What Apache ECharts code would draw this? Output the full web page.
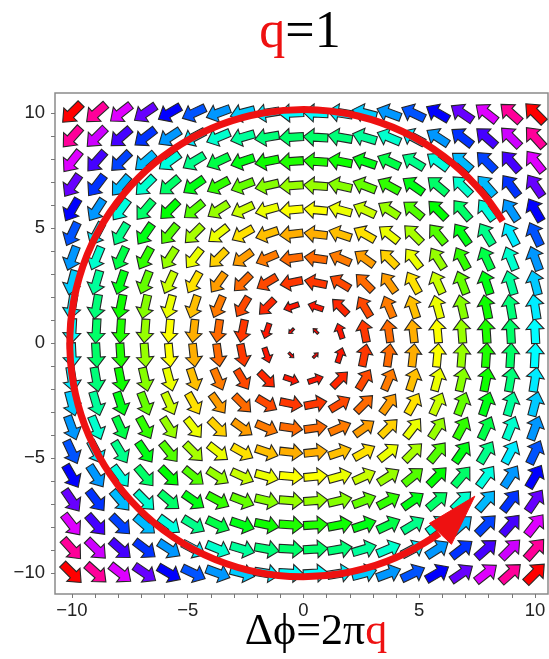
<!DOCTYPE html>
<html>
<head>
<meta charset="utf-8">
<script src="https://cdn.jsdelivr.net/npm/echarts@6/dist/echarts.min.js"></script>
<style>html,body{margin:0;padding:0;background:#fff}#c{width:549px;height:659px}</style>
</head>
<body>
<div id="c"></div>
<script>
// grid positions of the arrows (20 x 20 sample points)
const xGrid = [-10, -8.947, -7.895, -6.842, -5.789, -4.737, -3.684, -2.632, -1.579, -0.526,
               0.526, 1.579, 2.632, 3.684, 4.737, 5.789, 6.842, 7.895, 8.947, 10];
const yGrid = [-10, -8.947, -7.895, -6.842, -5.789, -4.737, -3.684, -2.632, -1.579, -0.526,
               0.526, 1.579, 2.632, 3.684, 4.737, 5.789, 6.842, 7.895, 8.947, 10];
// field components: horizontal component per row (by yGrid), vertical component per column (by xGrid)
const uByRow = [10, 8.947, 7.895, 6.842, 5.789, 4.737, 3.684, 2.632, 1.579, 0.526,
                -0.526, -1.579, -2.632, -3.684, -4.737, -5.789, -6.842, -7.895, -8.947, -10];
const vByCol = [-10, -8.947, -7.895, -6.842, -5.789, -4.737, -3.684, -2.632, -1.579, -0.526,
                0.526, 1.579, 2.632, 3.684, 4.737, 5.789, 6.842, 7.895, 8.947, 10];
const tickLabels = [-10, -5, 0, 5, 10];
const tickMarks = [-10,-9,-8,-7,-6,-5,-4,-3,-2,-1,0,1,2,3,4,5,6,7,8,9,10];
// red circulation loop annotation
const loopCenter = [0, 0];
const loopRadius = 10.12;
const loopStartDeg = 31.5;
const loopEndDeg = 305.5;
const loopArrowHead = [[7.4, -6.65], [5.44, -7.83], [6.39, -8.74]];

const fieldData = [];
for (let i = 0; i < yGrid.length; i++) {
  for (let j = 0; j < xGrid.length; j++) {
    fieldData.push([xGrid[j], yGrid[i], uByRow[i], vByCol[j]]);
  }
}
let maxSq = 0;
fieldData.forEach(d => { maxSq = Math.max(maxSq, d[2]*d[2] + d[3]*d[3]); });

function hueColor(h) {
  h = ((h % 360) + 360) % 360;
  const k = n => (n + h / 60) % 6;
  const f = n => 1 - Math.max(0, Math.min(k(n), 4 - k(n), 1));
  const r = Math.round(255 * f(5)), g = Math.round(255 * f(3)), b = Math.round(255 * f(1));
  return 'rgb(' + r + ',' + g + ',' + b + ')';
}

function renderArrow(params, api) {
  const x = api.value(0), y = api.value(1), u = api.value(2), v = api.value(3);
  const c = api.coord([x, y]);
  const r = Math.sqrt(u*u + v*v);
  const L = r < 2.4 ? 9.4 * r : 22.5 + 0.3 * (r - 2.4);
  const ang = Math.atan2(-v, u);
  const hs = 0.165 * L, hh = 0.36 * L, hl = 0.42 * L;
  const local = [[-L/2, -hs], [L/2 - hl, -hs], [L/2 - hl, -hh], [L/2, 0],
                 [L/2 - hl, hh], [L/2 - hl, hs], [-L/2, hs]];
  const ca = Math.cos(ang), sa = Math.sin(ang);
  const pts = local.map(p => [c[0] + p[0]*ca - p[1]*sa, c[1] + p[0]*sa + p[1]*ca]);
  const hue = 360 * (u*u + v*v) / maxSq;
  return {
    type: 'polygon',
    shape: { points: pts },
    style: { fill: hueColor(hue), stroke: '#262626', lineWidth: 1.1 }
  };
}

function renderLoop(params, api) {
  const c = api.coord(loopCenter);
  const sx = api.size([loopRadius, 0])[0];
  const sy = api.size([0, loopRadius])[1];
  const R = (sx + sy) / 2;
  const head = loopArrowHead.map(p => api.coord(p));
  return {
    type: 'group',
    children: [
      {
        type: 'arc',
        shape: { cx: c[0], cy: c[1], r: R,
                 startAngle: -loopStartDeg * Math.PI / 180,
                 endAngle: -loopEndDeg * Math.PI / 180,
                 clockwise: false },
        style: { stroke: '#ee1111', lineWidth: 7, fill: null }
      },
      {
        type: 'polygon',
        shape: { points: head },
        style: { fill: '#ee1111', stroke: '#ee1111', lineWidth: 1 }
      }
    ]
  };
}

const chart = echarts.init(document.getElementById('c'), null, { renderer: 'canvas' });
const fmt = v => String(v).replace('-', '\u2212');
chart.setOption({
  animation: false,
  backgroundColor: '#ffffff',
  title: [
    {
      text: '{r|q}{k|=1}', left: 295, top: 2, textAlign: 'center',
      textStyle: { fontWeight: 'normal', rich: {
        r: { fontFamily: 'Liberation Serif', fontWeight: 'normal', fontSize: 52, color: '#ee1111' },
        k: { fontFamily: 'Liberation Serif', fontWeight: 'normal', fontSize: 52, color: '#000' }
      } }
    },
    {
      text: '{k|\u0394\u03d5=2\u03c0}{r|q}', left: 311, top: 605, textAlign: 'center',
      textStyle: { fontWeight: 'normal', rich: {
        r: { fontFamily: 'Liberation Serif', fontWeight: 'normal', fontSize: 44, color: '#ee1111' },
        k: { fontFamily: 'Liberation Serif', fontWeight: 'normal', fontSize: 44, color: '#000' }
      } }
    }
  ],
  grid: { left: 55, top: 93, width: 493, height: 501, show: true, borderColor: '#8a8a8a', borderWidth: 1.5, backgroundColor: 'transparent' },
  xAxis: {
    type: 'value', min: -10.73, max: 10.56, position: 'bottom',
    axisLine: { show: false, onZero: false },
    splitLine: { show: false },
    axisTick: { show: true, inside: false, length: 4, customValues: tickMarks, lineStyle: { color: '#777' } },
    axisLabel: { customValues: tickLabels, formatter: fmt, margin: 7, fontFamily: 'Liberation Sans', fontSize: 18.5, color: '#222' }
  },
  yAxis: {
    type: 'value', min: -10.9, max: 10.87, position: 'left',
    axisLine: { show: false, onZero: false },
    splitLine: { show: false },
    axisTick: { show: true, inside: false, length: 4, customValues: tickMarks, lineStyle: { color: '#777' } },
    axisLabel: { customValues: tickLabels, formatter: fmt, margin: 10, fontFamily: 'Liberation Sans', fontSize: 18.5, color: '#222' }
  },
  series: [
    { type: 'custom', renderItem: renderArrow, data: fieldData, encode: { x: 0, y: 1 }, clip: true, z: 2 },
    { type: 'custom', renderItem: renderLoop, data: [loopCenter], encode: { x: 0, y: 1 }, clip: false, z: 5 }
  ]
});
</script>
</body>
</html>
